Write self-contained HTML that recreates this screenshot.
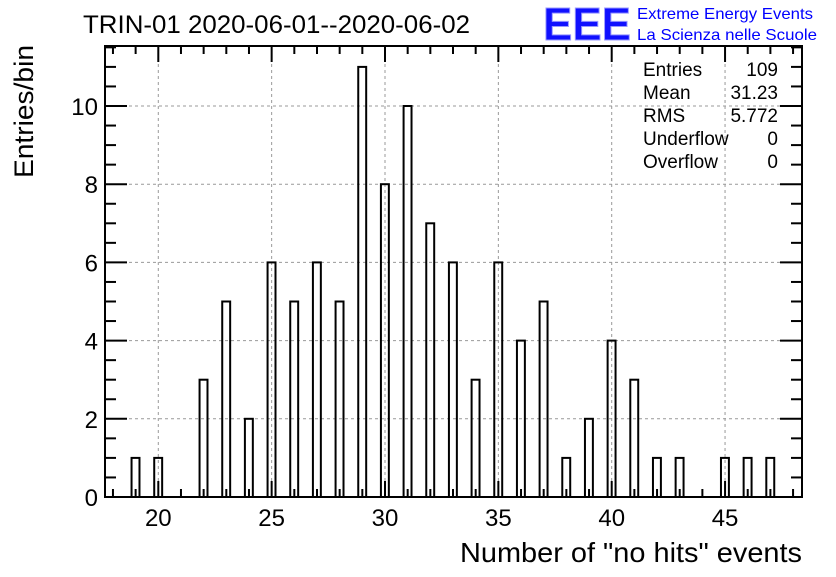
<!DOCTYPE html>
<html><head><meta charset="utf-8"><style>
body{margin:0;background:#fff;}
svg text{font-family:"Liberation Sans",sans-serif;}
</style></head><body>
<svg width="836" height="572" xmlns="http://www.w3.org/2000/svg">
<rect width="836" height="572" fill="#fff"/>
<g id="grid"></g>
<g id="bars"></g>
<g id="axes"></g>
<text x="83" y="33" font-size="25" textLength="387" lengthAdjust="spacingAndGlyphs">TRIN-01 2020-06-01--2020-06-02</text>
<g>
<text x="543" y="40" font-size="46" font-weight="bold" fill="#1010ff" textLength="88" lengthAdjust="spacingAndGlyphs" stroke="#9999ff" stroke-width="1">EEE</text>
<text x="637" y="19" font-size="16" fill="#0000ff" textLength="176" lengthAdjust="spacingAndGlyphs">Extreme Energy Events</text>
<text x="637" y="40" font-size="16" fill="#0000ff" textLength="180" lengthAdjust="spacingAndGlyphs">La Scienza nelle Scuole</text>
</g>
<g font-size="19">
<text x="643" y="76">Entries</text><text x="778" y="76" text-anchor="end">109</text>
<text x="643" y="99">Mean</text><text x="778" y="99" text-anchor="end">31.23</text>
<text x="643" y="122">RMS</text><text x="778" y="122" text-anchor="end">5.772</text>
<text x="643" y="145">Underflow</text><text x="778" y="145" text-anchor="end">0</text>
<text x="643" y="168">Overflow</text><text x="778" y="168" text-anchor="end">0</text>
</g>
<text x="802" y="562" font-size="28" text-anchor="end" textLength="342" lengthAdjust="spacingAndGlyphs">Number of "no hits" events</text>
<text transform="translate(33,178) rotate(-90)" font-size="27" textLength="133" lengthAdjust="spacingAndGlyphs">Entries/bin</text>
</svg>
<script>
const categories=[19,20,22,23,24,25,26,27,28,29,30,31,32,33,34,35,36,37,38,39,40,41,42,43,45,46,47];
const counts=[1,1,3,5,2,6,5,6,5,11,8,10,7,6,3,6,4,5,1,2,4,3,1,1,1,1,1];
const xTickLabels=[20,25,30,35,40,45];
const yTickLabels=[0,2,4,6,8,10];
const L=105,R=802,T=46,B=497;
const X=v=>158.3+(v-20)*22.67;
const Y=v=>B-v*39.1;
const NS="http://www.w3.org/2000/svg";
function mk(tag,attrs,parent){const e=document.createElementNS(NS,tag);for(const k in attrs)e.setAttribute(k,attrs[k]);parent.appendChild(e);return e;}
const grid=document.getElementById('grid'),bars=document.getElementById('bars'),axes=document.getElementById('axes');
xTickLabels.forEach(v=>{const l=mk('line',{x1:X(v),x2:X(v),y1:T,y2:B,stroke:'#999','stroke-dasharray':'3,3'},grid);
});
yTickLabels.slice(1).forEach(v=>{const l=mk('line',{x1:L,x2:R,y1:Y(v),y2:Y(v),stroke:'#999','stroke-dasharray':'3,3'},grid);
});
categories.forEach((c,i)=>{const r=mk('rect',{x:X(c-0.18),y:Y(counts[i]),width:X(c+0.17)-X(c-0.18),height:B-Y(counts[i]),fill:'none',stroke:'#000','stroke-width':2},bars);
});
mk('rect',{x:L,y:T,width:R-L,height:B-T,fill:'none',stroke:'#000','stroke-width':2},axes);
for(let v=18;v<=48;v++){const maj=v%5===0;const h=maj?16:8;
mk('line',{x1:X(v),x2:X(v),y1:B,y2:B-h,stroke:'#000','stroke-width':2},axes);
mk('line',{x1:X(v),x2:X(v),y1:T,y2:T+h,stroke:'#000','stroke-width':2},axes);}
for(let v=0;v<=11.5;v+=0.5){const maj=v%2===0;const w=maj?22:11;
mk('line',{x1:L,x2:L+w,y1:Y(v),y2:Y(v),stroke:'#000','stroke-width':2},axes);
mk('line',{x1:R,x2:R-w,y1:Y(v),y2:Y(v),stroke:'#000','stroke-width':2},axes);}
xTickLabels.forEach(v=>{const t=mk('text',{x:X(v),y:526,'font-size':24,'text-anchor':'middle'},axes);t.textContent=v;
});
yTickLabels.forEach(v=>{const t=mk('text',{x:98,y:Y(v)+9,'font-size':24,'text-anchor':'end'},axes);t.textContent=v;
});
</script>
</body></html>
